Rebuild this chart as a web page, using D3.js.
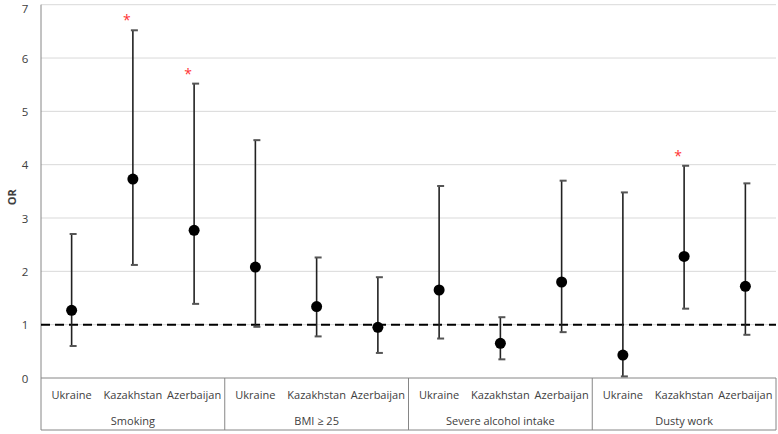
<!DOCTYPE html>
<html><head><meta charset="utf-8">
<script src="https://cdn.jsdelivr.net/npm/d3@7"></script>
<style>
html,body{margin:0;padding:0;background:#fff;}
svg{display:block;font-family:"Open Sans","Segoe UI",sans-serif;}
</style></head>
<body>
<svg id="chart" width="778" height="434"></svg>
<script>
const groups = ["Smoking", "BMI \u2265 25", "Severe alcohol intake", "Dusty work"];
const countries = ["Ukraine", "Kazakhstan", "Azerbaijan"];
// per group, per country
const orValues = [
  [1.27, 3.73, 2.77],
  [2.08, 1.34, 0.95],
  [1.65, 0.65, 1.80],
  [0.43, 2.28, 1.72]
];
const lowerCI = [
  [0.60, 2.12, 1.39],
  [0.96, 0.78, 0.47],
  [0.74, 0.35, 0.86],
  [0.03, 1.30, 0.81]
];
const upperCI = [
  [2.70, 6.52, 5.52],
  [4.46, 2.26, 1.89],
  [3.60, 1.14, 3.70],
  [3.48, 3.98, 3.65]
];
const significant = [
  [false, true, true],
  [false, false, false],
  [false, false, false],
  [false, true, false]
];
const yTicks = [0, 1, 2, 3, 4, 5, 6, 7];
const refLine = 1;

const svg = d3.select("#chart");
const L = 41, R = 776, T = 4.7, B = 378, Bottom = 430;

const y = d3.scaleLinear().domain([0, 7]).range([B, T]);
const xg = d3.scaleBand().domain(groups).range([L, R]).padding(0);
const xc = d3.scaleBand().domain(countries).range([0, xg.bandwidth()]).padding(0);

// gridlines
svg.append("g").selectAll("line").data(yTicks.filter(d => d > 0)).join("line")
  .attr("x1", L).attr("x2", R).attr("y1", d => y(d)).attr("y2", d => y(d))
  .attr("stroke", "#d9d9d9").attr("stroke-width", 1);

// y axis
const yAxis = d3.axisLeft(y).tickValues(yTicks).tickSize(0).tickPadding(10).tickFormat(d3.format("d"));
const ya = svg.append("g").attr("transform", `translate(${L},0)`).call(yAxis);
ya.select(".domain").remove();
ya.selectAll("text").attr("font-size", 11.5).attr("fill", "#404040")
  .attr("font-family", "\"Open Sans\",sans-serif").attr("text-anchor", "middle")
  .attr("dx", -6).attr("dy", "0.37em");
// keep the top label inside the picture
ya.selectAll(".tick").filter(d => d === 7).select("text").attr("y", 3.6);

// frame lines
svg.append("line").attr("x1", L).attr("x2", L).attr("y1", T).attr("y2", Bottom).attr("stroke", "#868686");
svg.append("line").attr("x1", L).attr("x2", R).attr("y1", B).attr("y2", B).attr("stroke", "#868686");
svg.append("line").attr("x1", L).attr("x2", R).attr("y1", Bottom).attr("y2", Bottom).attr("stroke", "#868686");
svg.append("g").selectAll("line").data(groups).join("line")
  .attr("x1", d => xg(d) + xg.bandwidth()).attr("x2", d => xg(d) + xg.bandwidth())
  .attr("y1", B).attr("y2", Bottom).attr("stroke", "#868686");

// OR title
svg.append("text").attr("transform", `translate(16,${(T + B) / 2 + 6}) rotate(-90)`)
  .attr("text-anchor", "middle").attr("font-size", 11).attr("font-weight", "bold")
  .attr("fill", "#404040").text("OR");

// category labels
groups.forEach((g, gi) => {
  const gx = xg(g);
  countries.forEach(c => {
    svg.append("text").attr("x", gx + xc(c) + xc.bandwidth() / 2).attr("y", 399)
      .attr("text-anchor", "middle").attr("font-size", 11).attr("fill", "#404040").text(c);
  });
  svg.append("text").attr("x", gx + xg.bandwidth() / 2).attr("y", 425)
    .attr("text-anchor", "middle").attr("font-size", 11).attr("fill", "#404040").text(g);
});

// reference dashed line
svg.append("line").attr("x1", L).attr("x2", R).attr("y1", y(refLine)).attr("y2", y(refLine))
  .attr("stroke", "#000").attr("stroke-width", 2).attr("stroke-dasharray", "9,5");

// error bars and points
const pts = [];
groups.forEach((g, gi) => countries.forEach((c, ci) => {
  pts.push({cx: xg(g) + xc(c) + xc.bandwidth() / 2, v: orValues[gi][ci],
    lo: lowerCI[gi][ci], hi: upperCI[gi][ci], sig: significant[gi][ci]});
}));
const eb = svg.append("g");
pts.forEach(p => {
  eb.append("line").attr("x1", p.cx).attr("x2", p.cx).attr("y1", y(p.lo)).attr("y2", y(p.hi))
    .attr("stroke", "#222").attr("stroke-width", 1.6);
  [p.lo, p.hi].forEach(v => {
    eb.append("line").attr("x1", p.cx - 2).attr("x2", p.cx + 5).attr("y1", y(v)).attr("y2", y(v))
      .attr("stroke", "#555").attr("stroke-width", 2);
  });
  eb.append("circle").attr("cx", p.cx).attr("cy", y(p.v)).attr("r", 5.5).attr("fill", "#000");
  if (p.sig) {
    eb.append("text").attr("x", p.cx - 6).attr("y", y(p.hi) - 5).attr("text-anchor", "middle")
      .attr("font-size", 14).attr("fill", "#ff3333").text("*");
  }
});
</script>
</body></html>
